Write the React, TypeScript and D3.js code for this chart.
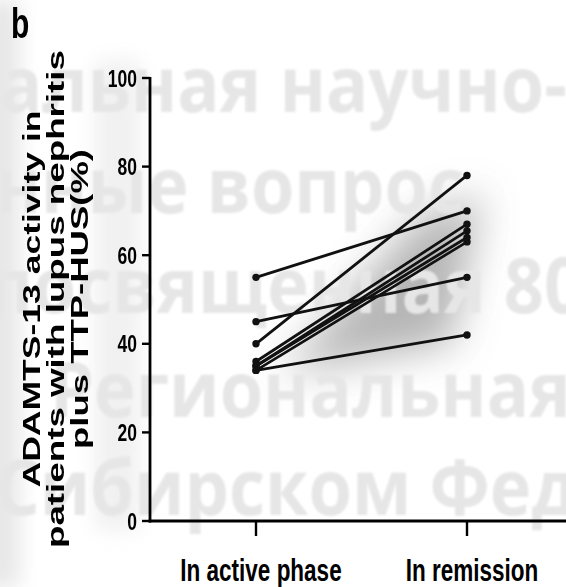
import React from "react";
import * as d3 from "d3";

const W = 566;
const H = 587;

const phases = ["In active phase", "In remission"];
const activePhase = [55, 45, 40, 36, 35, 35, 34, 34];
const remission = [70, 55, 78, 67, 65.5, 64, 63, 42];
const yTicks = [0, 20, 40, 60, 80, 100];
const yTitleLines = ["ADAMTS-13 activity in", "patients  with lupus nephritis", "plus TTP-HUS(%)"];
const yTitleLengths = [377, 498, 300];
const panelLabel = "b";

const watermarkRows = ["альная научно-", "онные вопрос", "посвященная 80", "Региональная", "Сибирском Фед"];
const watermarkX = [0, -49, -13, 50, -5];
const watermarkBaseline = [112, 213, 313, 417, 515];

const FONT = "'Liberation Sans', Arial, Helvetica, sans-serif";

export default function App() {
  const y = d3.scaleLinear().domain([0, 100]).range([521, 78]);
  const x = d3.scalePoint<string>().domain(phases).range([256, 467]);
  const axisX = 150;
  const pairs = activePhase.map((a, i) => [
    { p: phases[0], v: a },
    { p: phases[1], v: remission[i] },
  ]);
  const line = d3
    .line<{ p: string; v: number }>()
    .x((d) => x(d.p) as number)
    .y((d) => y(d.v));
  const xa = x(phases[0]) as number;
  const xr = x(phases[1]) as number;

  return (
    <svg
      width={W}
      height={H}
      viewBox={`0 0 ${W} ${H}`}
      style={{ position: "absolute", left: 0, top: 0, background: "#fff" }}
    >
      <defs>
        <filter id="blur1" x="-50%" y="-50%" width="200%" height="200%">
          <feGaussianBlur stdDeviation="20" />
        </filter>
        <filter id="blur2" x="-50%" y="-50%" width="200%" height="200%">
          <feGaussianBlur stdDeviation="1.2" />
        </filter>
        <filter id="blur3" x="-50%" y="-50%" width="200%" height="200%">
          <feGaussianBlur stdDeviation="10" />
        </filter>
      </defs>
      <rect width={W} height={H} fill="#fff" />
      {/* soft grey shading */}
      <polygon
        points={[
          [xa + 25, y(33)],
          [xr - 15, y(40)],
          [xr + 15, y(74)],
          [xr - 50, y(68)],
        ]
          .map((p) => p.join(","))
          .join(" ")}
        fill="#a8a8a8"
        opacity={0.85}
        filter="url(#blur1)"
      />
      <rect x={-20} y={0} width={40} height={H} fill="#d8d8d8" opacity={0.6} filter="url(#blur3)" />
      <rect x={95} y={60} width={45} height={470} fill="#e2e2e2" opacity={0.5} filter="url(#blur3)" />
      {/* watermark */}
      <g filter="url(#blur2)">
        {watermarkRows.map((t, i) => (
          <text
            key={i}
            transform={`translate(${watermarkX[i]},${watermarkBaseline[i]}) scale(0.9,1)`}
            fontFamily="'Open Sans', 'DejaVu Sans', sans-serif"
            fontWeight={700}
            fontSize={78}
            fill="#e6e6e6"
          >
            {t}
          </text>
        ))}
      </g>

      {/* panel label */}
      <text
        transform={`translate(11,38) scale(1,1.4)`}
        fontFamily={FONT}
        fontWeight={700}
        fontSize={30}
        fill="#000"
      >
        {panelLabel}
      </text>

      {/* y title */}
      {yTitleLines.map((t, i) => (
        <text
          key={i}
          transform={`translate(${40 + i * 24},299) rotate(-90)`}
          textAnchor="middle"
          fontFamily={FONT}
          fontWeight={700}
          fontSize={24}
          textLength={yTitleLengths[i]}
          lengthAdjust="spacingAndGlyphs"
          fill="#000"
        >
          {t}
        </text>
      ))}

      {/* y axis */}
      <line x1={axisX} x2={axisX} y1={y(100) - 1} y2={y(0) + 1.5} stroke="#000" strokeWidth={2.8} />
      {yTicks.map((t) => (
        <g key={t}>
          <line x1={axisX - 8} x2={axisX} y1={y(t)} y2={y(t)} stroke="#000" strokeWidth={2.4} />
          <text
            transform={`translate(${axisX - 13},${y(t) + 8.5}) scale(1,1.4)`}
            textAnchor="end"
            fontFamily={FONT}
            fontWeight={700}
            fontSize={17.5}
            fill="#000"
          >
            {t}
          </text>
        </g>
      ))}

      {/* x axis */}
      <line x1={axisX - 1.4} x2={W} y1={y(0)} y2={y(0)} stroke="#000" strokeWidth={3} />
      {phases.map((p) => (
        <g key={p}>
          <line
            x1={x(p) as number}
            x2={x(p) as number}
            y1={y(0)}
            y2={y(0) + 15}
            stroke="#000"
            strokeWidth={2.4}
          />
          <text
            transform={`translate(${(x(p) as number) + 5},${y(0) + 60}) scale(1,1.42)`}
            textAnchor="middle"
            fontFamily={FONT}
            fontWeight={700}
            fontSize={22.5}
            fill="#000"
          >
            {p}
          </text>
        </g>
      ))}

      {/* paired lines */}
      {pairs.map((pr, i) => (
        <g key={i}>
          <path d={line(pr) || ""} fill="none" stroke="#111" strokeWidth={2.8} />
          {pr.map((d, j) => (
            <circle key={j} cx={x(d.p) as number} cy={y(d.v)} r={3.7} fill="#111" />
          ))}
        </g>
      ))}
    </svg>
  );
}
